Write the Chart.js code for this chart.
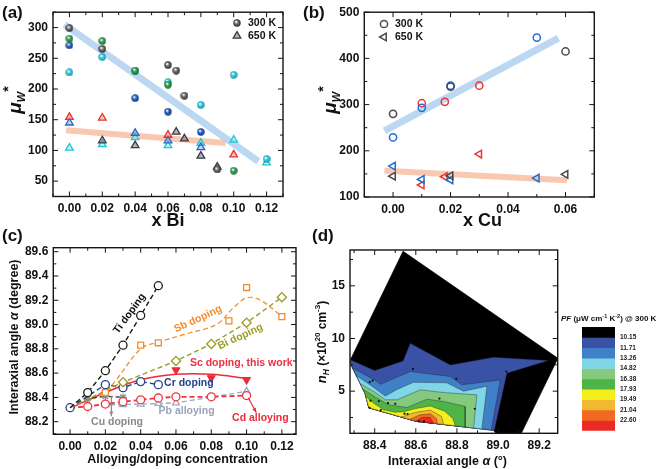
<!DOCTYPE html>
<html>
<head>
<meta charset="utf-8">
<title>Weighted mobility and interaxial angle</title>
<script src="https://cdn.jsdelivr.net/npm/chart.js@4.4.0/dist/chart.umd.min.js"></script>
<style>
  html, body { margin: 0; padding: 0; background: #fff; }
  #figure { position: relative; width: 661px; height: 469px; overflow: hidden; font-family: "Liberation Sans", Arial, sans-serif; color: #111; }
  #figure canvas { position: absolute; }
  .tag { position: absolute; font-size: 17px; font-weight: bold; line-height: 1; }
  #pfTitle { position: absolute; left: 561px; top: 315px; font-size: 8px; font-weight: bold; white-space: nowrap; line-height: 1; }
  #pfTitle sup { font-size: 5.5px; vertical-align: 3px; line-height: 0; }
</style>
</head>
<body>
<div id="figure">
  <canvas id="chartA" width="318" height="232" style="left:0;top:0"></canvas>
  <canvas id="chartB" width="343" height="232" style="left:318px;top:0"></canvas>
  <canvas id="chartC" width="318" height="237" style="left:0;top:232px"></canvas>
  <canvas id="chartD" width="270" height="237" style="left:300px;top:232px"></canvas>
  <canvas id="chartE" width="91" height="130" style="left:570px;top:310px"></canvas>
  <div class="tag" style="left:2px;top:4px">(a)</div>
  <div class="tag" style="left:303px;top:4px">(b)</div>
  <div class="tag" style="left:2px;top:227px">(c)</div>
  <div class="tag" style="left:312px;top:227px">(d)</div>
  <div id="pfTitle"><i>PF</i> (&mu;W cm<sup>-1</sup> K<sup>-2</sup>) @ 300 K</div>
</div>
<script>
// (a) weighted mobility vs x Bi
const biGrey300 = [[0, 299], [0.02, 265], [0.06, 239], [0.065, 230], [0.07, 189], [0.09, 69]];
const biGreen300 = [[0, 282], [0.02, 278], [0.04, 230], [0.06, 207], [0.10, 67]];
const biBlue300 = [[0, 271], [0.04, 185], [0.06, 163], [0.08, 130]];
const biCyan300 = [[0, 227], [0.02, 252], [0.04, 229], [0.06, 211], [0.08, 174], [0.10, 223], [0.12, 86]];
const biGrey650 = [[0.02, 116], [0.04, 108], [0.065, 130], [0.07, 119], [0.08, 91], [0.09, 73]];
const biRed650 = [[0, 154], [0.02, 153], [0.06, 125], [0.10, 93]];
const biBlue650 = [[0, 145], [0.04, 128], [0.06, 116], [0.08, 105]];
const biCyan650 = [[0, 104], [0.02, 110], [0.04, 121], [0.06, 108], [0.08, 112], [0.10, 117], [0.12, 80]];
const biFit300 = [[-0.003, 305], [0.115, 82]];
const biFit650 = [[-0.002, 133], [0.095, 112]];
const biTicksX = [0, 0.02, 0.04, 0.06, 0.08, 0.10, 0.12];
const biTicksY = [50, 100, 150, 200, 250, 300];

// (b) weighted mobility vs x Cu
const cuGrey300 = [[0, 280], [0.02, 339], [0.06, 415]];
const cuBlue300 = [[0, 229], [0.01, 293], [0.02, 341], [0.05, 445]];
const cuRed300 = [[0.01, 303], [0.018, 306], [0.03, 341]];
const cuGrey650 = [[0, 145], [0.02, 146], [0.06, 149]];
const cuBlue650 = [[0, 167], [0.01, 138], [0.02, 137], [0.05, 141]];
const cuRed650 = [[0.01, 126], [0.018, 144], [0.03, 193]];
const cuFit300 = [[-0.003, 243], [0.0575, 444]];
const cuFit650 = [[-0.003, 157], [0.0605, 136]];
const cuTicksX = [0, 0.02, 0.04, 0.06];
const cuTicksY = [100, 200, 300, 400, 500];

// (c) interaxial angle vs alloying/doping concentration
const tiDoping = [[0, 88.315], [0.01, 88.44], [0.02, 88.62], [0.03, 88.83], [0.04, 89.075], [0.05, 89.32]];
const sbDoping = [[0.02, 88.44], [0.04, 88.83], [0.05, 88.85], [0.09, 89.03], [0.10, 89.305], [0.12, 89.065]];
const sbFit = [[0, 88.315], [0.02, 88.45], [0.04, 88.80], [0.05, 88.855], [0.065, 88.92], [0.083, 89.0], [0.092, 89.13], [0.10, 89.22], [0.108, 89.2], [0.12, 89.065]];
const biDoping = [[0, 88.315], [0.03, 88.525], [0.06, 88.70], [0.08, 88.84], [0.10, 89.015], [0.12, 89.225]];
const crDoping = [[0, 88.315], [0.02, 88.505], [0.03, 88.48], [0.04, 88.53], [0.05, 88.505]];
const cdAlloying = [[0, 88.315], [0.01, 88.325], [0.02, 88.345], [0.03, 88.365], [0.04, 88.38], [0.05, 88.395], [0.06, 88.405], [0.08, 88.405], [0.10, 88.415]];
const pbAlloying = [[0, 88.315], [0.02, 88.34], [0.03, 88.34], [0.04, 88.345], [0.05, 88.35], [0.06, 88.355], [0.10, 88.45]];
const cuDoping = [[0, 88.315], [0.01, 88.39], [0.02, 88.41], [0.03, 88.40]];
const scDoping = [[0.06, 88.625], [0.08, 88.56], [0.10, 88.545]];
const scFit = [[0, 88.31], [0.02, 88.44], [0.04, 88.545], [0.06, 88.59], [0.08, 88.59], [0.10, 88.555]];
const dopTicksX = [0, 0.02, 0.04, 0.06, 0.08, 0.10, 0.12];
const dopTicksY = [88.2, 88.4, 88.6, 88.8, 89.0, 89.2, 89.4, 89.6];

// (d) PF contour over interaxial angle and carrier density, outer region first
const pfHull = [[88.282, 7.97], [88.538, 18.28], [89.291, 8.12], [89.113, 1.0], [88.989, 1.0], [88.978, 1.28], [88.60, 2.15], [88.372, 3.42], [88.353, 4.81], [88.285, 7.49], [88.282, 7.97]];
const pfBand1 = [[88.282, 7.97], [88.40, 6.96], [88.538, 7.87], [88.573, 9.54], [88.768, 7.49], [88.978, 8.22], [89.245, 7.9], [89.043, 6.70], [88.982, 1.27], [88.60, 2.15], [88.372, 3.42], [88.353, 4.81], [88.285, 7.49], [88.282, 7.97]];
const pfBand2 = [[88.293, 7.18], [88.40, 6.07], [88.428, 5.65], [88.573, 6.86], [88.768, 6.39], [88.824, 5.60], [89.011, 6.07], [88.967, 1.31], [88.60, 2.15], [88.372, 3.42], [88.353, 4.81], [88.293, 7.18]];
const pfBand3 = [[88.311, 6.47], [88.387, 5.47], [88.452, 4.53], [88.509, 5.16], [88.589, 5.85], [88.751, 5.79], [88.832, 5.0], [88.946, 5.47], [88.921, 1.41], [88.60, 2.15], [88.372, 3.42], [88.353, 4.81], [88.311, 6.47]];
const pfBand4 = [[88.33, 5.7], [88.395, 4.97], [88.452, 4.18], [88.509, 4.18], [88.622, 5.13], [88.735, 4.87], [88.897, 4.65], [88.881, 1.50], [88.60, 2.15], [88.372, 3.42], [88.353, 4.81], [88.33, 5.7]];
const pfBand5 = [[88.342, 5.2], [88.411, 4.34], [88.468, 3.71], [88.557, 3.45], [88.654, 4.24], [88.735, 4.02], [88.84, 3.55], [88.84, 1.60], [88.60, 2.15], [88.372, 3.42], [88.353, 4.81], [88.342, 5.2]];
const pfBand6 = [[88.356, 4.5], [88.395, 3.86], [88.444, 3.23], [88.50, 3.0], [88.54, 3.05], [88.60, 3.35], [88.67, 3.6], [88.74, 3.1], [88.78, 2.4], [88.792, 1.71], [88.60, 2.15], [88.372, 3.42], [88.356, 4.5]];
const pfBand7 = [[88.53, 2.54], [88.60, 3.0], [88.67, 3.2], [88.725, 2.6], [88.735, 1.84], [88.60, 2.15], [88.53, 2.54]];
const pfBand8 = [[88.57, 2.32], [88.62, 2.75], [88.67, 2.85], [88.70, 2.4], [88.705, 1.91], [88.60, 2.15], [88.57, 2.32]];
const pfBand9 = [[88.60, 2.15], [88.63, 2.5], [88.67, 2.5], [88.685, 1.95], [88.60, 2.15]];
const pfSamples = [[88.39, 6.0], [88.376, 5.85], [88.586, 7.11], [88.797, 6.17], [89.04, 6.86], [88.38, 4.1], [88.42, 4.05], [88.465, 3.86], [88.50, 3.8], [88.43, 3.2], [88.545, 2.86], [88.56, 2.83], [88.615, 2.13], [88.64, 2.13], [88.715, 4.3], [88.887, 3.33], [88.375, 3.42]];
const pfTicksX = [88.4, 88.6, 88.8, 89.0, 89.2];
const pfTicksY = [5, 10, 15];
const pfTickLabels = ['10.15', '11.71', '13.26', '14.82', '16.38', '17.93', '19.49', '21.04', '22.60'];

const FONT = '"Liberation Sans", Arial, Helvetica, sans-serif';
const pfColors = ['#000000', '#3a52a6', '#4080c6', '#80d6e6', '#84c97e', '#4fb447', '#f4ee1c', '#f2b832', '#f06a22', '#ec2a24'];

Chart.defaults.font.family = FONT;

const pts = arr => arr.map(p => ({ x: p[0], y: p[1] }));

function minorOf(majors, min, max) {
    const step = majors[1] - majors[0];
    const out = [];
    for (let v = majors[0] - step / 2; v <= max + 1e-9; v += step) {
        if (v >= min - 1e-9) out.push(v);
    }
    return out;
}

// shaded ball used for the 300 K markers in (a)
function sphere(color, edge, size) {
    const c = document.createElement('canvas');
    c.width = c.height = size;
    const g = c.getContext('2d');
    const r = size / 2;
    const grad = g.createRadialGradient(r * 0.75, r * 0.7, r * 0.1, r, r, r);
    grad.addColorStop(0, '#ffffff');
    grad.addColorStop(0.35, color);
    grad.addColorStop(1, edge);
    g.fillStyle = grad;
    g.beginPath();
    g.arc(r, r, r - 0.3, 0, Math.PI * 2);
    g.fill();
    return c;
}

function drawRich(ctx, parts, x, y, rot) {
    ctx.save();
    ctx.translate(x, y);
    ctx.rotate(rot * Math.PI / 180);
    ctx.fillStyle = '#111';
    ctx.textBaseline = 'alphabetic';
    let w = 0;
    parts.forEach(p => { ctx.font = p[2] + ' ' + p[1] + 'px ' + FONT; w += ctx.measureText(p[0]).width; });
    let cx = -w / 2;
    const base = parts[0][1] * 0.36;
    parts.forEach(p => {
        ctx.font = p[2] + ' ' + p[1] + 'px ' + FONT;
        ctx.fillText(p[0], cx, base + (p[3] || 0));
        cx += ctx.measureText(p[0]).width;
    });
    ctx.restore();
}

function drawMarker(ctx, m, x, y) {
    if (m.image) {
        ctx.drawImage(m.image, x - m.image.width / 2, y - m.image.height / 2);
        return;
    }
    ctx.save();
    ctx.fillStyle = m.fill || 'rgba(0,0,0,0)';
    ctx.strokeStyle = m.stroke;
    ctx.lineWidth = m.lw;
    Chart.helpers.drawPoint(ctx, { pointStyle: m.style, radius: m.r, rotation: m.rot || 0, borderWidth: m.lw }, x, y);
    ctx.restore();
}

function drawFrame(chart) {
    const { ctx, chartArea: a } = chart;
    const xs = chart.scales.x, ys = chart.scales.y;
    const xMaj = xs.ticks.map(t => t.value), yMaj = ys.ticks.map(t => t.value);
    ctx.save();
    ctx.strokeStyle = '#151515';
    ctx.lineWidth = 1;
    ctx.beginPath();
    const mark = (vals, len, horizontal) => vals.forEach(v => {
        if (horizontal) {
            const p = xs.getPixelForValue(v);
            ctx.moveTo(p, a.bottom); ctx.lineTo(p, a.bottom - len);
            ctx.moveTo(p, a.top); ctx.lineTo(p, a.top + len);
        } else {
            const p = ys.getPixelForValue(v);
            ctx.moveTo(a.left, p); ctx.lineTo(a.left + len, p);
            ctx.moveTo(a.right, p); ctx.lineTo(a.right - len, p);
        }
    });
    mark(xMaj, 5, true);
    mark(minorOf(xMaj, xs.min, xs.max), 3, true);
    mark(yMaj, 5, false);
    mark(minorOf(yMaj, ys.min, ys.max), 3, false);
    ctx.stroke();
    ctx.lineWidth = 1.4;
    ctx.strokeRect(a.left, a.top, a.right - a.left, a.bottom - a.top);
    ctx.restore();
}

// frame, inner ticks, axis titles, labels, arrows and legends
const decor = {
    id: 'decor',
    afterDatasetsDraw(chart) {
        drawFrame(chart);
    },
    afterDraw(chart, args, opts) {
        const ctx = chart.ctx;
        const xs = chart.scales.x, ys = chart.scales.y;
        (opts.arrows || []).forEach(ar => {
            const x1 = xs.getPixelForValue(ar.from[0]), y1 = ys.getPixelForValue(ar.from[1]);
            const x2 = xs.getPixelForValue(ar.to[0]), y2 = ys.getPixelForValue(ar.to[1]);
            const ang = Math.atan2(y2 - y1, x2 - x1);
            ctx.save();
            ctx.strokeStyle = ar.color;
            ctx.fillStyle = ar.color;
            ctx.lineWidth = 1.2;
            ctx.beginPath(); ctx.moveTo(x1, y1); ctx.lineTo(x2, y2); ctx.stroke();
            ctx.beginPath();
            ctx.moveTo(x2, y2);
            ctx.lineTo(x2 - 5 * Math.cos(ang - 0.4), y2 - 5 * Math.sin(ang - 0.4));
            ctx.lineTo(x2 - 5 * Math.cos(ang + 0.4), y2 - 5 * Math.sin(ang + 0.4));
            ctx.closePath(); ctx.fill();
            ctx.restore();
        });
        (opts.texts || []).forEach(t => {
            ctx.save();
            ctx.translate(xs.getPixelForValue(t.x), ys.getPixelForValue(t.y));
            ctx.rotate((t.rot || 0) * Math.PI / 180);
            ctx.font = 'bold ' + (t.size || 10.5) + 'px ' + FONT;
            ctx.fillStyle = t.color;
            ctx.textAlign = 'center';
            ctx.textBaseline = 'middle';
            ctx.fillText(t.text, 0, 0);
            ctx.restore();
        });
        (opts.titles || []).forEach(t => drawRich(ctx, t.parts, t.x, t.y, t.rot || 0));
        (opts.legend || []).forEach(item => {
            drawMarker(ctx, item.marker, item.x, item.y);
            ctx.save();
            ctx.font = 'bold 10.5px ' + FONT;
            ctx.fillStyle = '#111';
            ctx.textBaseline = 'middle';
            ctx.fillText(item.label, item.x + 11, item.y + 0.5);
            ctx.restore();
        });
    }
};
Chart.register(decor);

function axis(a, horizontal) {
    return {
        type: 'linear',
        min: a.min,
        max: a.max,
        grid: { display: false, drawTicks: false },
        border: { display: false },
        afterBuildTicks: s => { s.ticks = a.ticks.map(v => ({ value: v })); },
        afterFit: s => { if (horizontal) s.height = a.size; else s.width = a.size; },
        ticks: {
            autoSkip: false,
            maxRotation: 0,
            padding: a.pad || 5,
            color: '#111',
            font: { family: FONT, size: 12, weight: 'bold' },
            callback: v => Number(v).toFixed(a.digits)
        }
    };
}

function scatterChart(id, datasets, o) {
    return new Chart(document.getElementById(id), {
        type: 'scatter',
        data: { datasets: datasets },
        options: {
            responsive: false,
            animation: false,
            devicePixelRatio: 1,
            events: [],
            layout: { padding: o.padding },
            plugins: { legend: { display: false }, tooltip: { enabled: false }, decor: o.decor },
            scales: { x: axis(o.x, true), y: axis(o.y, false) }
        }
    });
}

function band(data, color, width) {
    return { data: pts(data), showLine: true, borderColor: color, borderWidth: width, pointRadius: 0, order: 10 };
}

const muTitle = [['\u03bc', 19, 'italic bold', 0], ['W', 11, 'italic bold', 4], ['*', 14, 'bold', -8]];

// ---------- (a)
const ball = {
    grey: sphere('#767676', '#202020', 8),
    green: sphere('#38a85a', '#17602f', 8),
    blue: sphere('#2b6ccb', '#0f3478', 8),
    cyan: sphere('#34d2e2', '#178c9c', 8)
};
const ballSet = (data, img) => ({ data: pts(data), pointStyle: img, pointRadius: 4 });
const triSet = (data, color, fill) => ({
    data: pts(data), pointStyle: 'triangle', pointRadius: 4.4, pointBorderWidth: 1.3,
    pointBorderColor: color, pointBackgroundColor: fill
});

scatterChart('chartA', [
    ballSet(biGrey300, ball.grey),
    ballSet(biGreen300, ball.green),
    ballSet(biBlue300, ball.blue),
    ballSet(biCyan300, ball.cyan),
    triSet(biGrey650, '#3c3c48', 'rgba(120,120,130,0.55)'),
    triSet(biRed650, '#ec3030', 'rgba(240,90,90,0.35)'),
    triSet(biBlue650, '#2a66c6', 'rgba(80,130,210,0.35)'),
    triSet(biCyan650, '#22c6d4', 'rgba(90,220,230,0.35)'),
    band(biFit300, 'rgba(176,208,240,0.85)', 7),
    band(biFit650, 'rgba(246,186,156,0.8)', 6)
], {
    padding: { left: 0, top: 11, right: 35, bottom: 0 },
    x: { min: -0.01, max: 0.13, ticks: biTicksX, digits: 2, size: 35.5 },
    y: { min: 25, max: 325, ticks: biTicksY, digits: 0, size: 53 },
    decor: {
        titles: [
            { parts: [['x Bi', 18, 'bold', 0]], x: 168, y: 220 },
            { parts: muTitle, x: 14, y: 100, rot: -90 }
        ],
        legend: [
            { x: 237, y: 23, label: '300 K', marker: { image: ball.grey } },
            { x: 237, y: 36, label: '650 K', marker: { style: 'triangle', r: 4.4, lw: 1.3, stroke: '#3c3c48', fill: 'rgba(120,120,130,0.55)' } }
        ]
    }
});

// ---------- (b)
const ringSet = (data, color) => ({
    data: pts(data), pointStyle: 'circle', pointRadius: 3.6, pointBorderWidth: 1.5,
    pointBorderColor: color, pointBackgroundColor: 'rgba(255,255,255,0)'
});
const leftTriSet = (data, color) => ({
    data: pts(data), pointStyle: 'triangle', pointRotation: -90, pointRadius: 4.4, pointBorderWidth: 1.5,
    pointBorderColor: color, pointBackgroundColor: 'rgba(255,255,255,0)'
});

scatterChart('chartB', [
    ringSet(cuGrey300, '#4a4a4a'),
    ringSet(cuBlue300, '#1e6ed2'),
    ringSet(cuRed300, '#ee3434'),
    leftTriSet(cuGrey650, '#4a4a4a'),
    leftTriSet(cuBlue650, '#1e6ed2'),
    leftTriSet(cuRed650, '#ee3434'),
    band(cuFit300, 'rgba(176,208,240,0.85)', 7),
    band(cuFit650, 'rgba(246,186,156,0.8)', 6)
], {
    padding: { left: 0, top: 10.5, right: 66.7, bottom: 0 },
    x: { min: -0.01, max: 0.07, ticks: cuTicksX, digits: 2, size: 35 },
    y: { min: 100, max: 500, ticks: cuTicksY, digits: 0, size: 46.3 },
    decor: {
        titles: [
            { parts: [['x Cu', 18, 'bold', 0]], x: 164.5, y: 220 },
            { parts: muTitle, x: 11, y: 100, rot: -90 }
        ],
        legend: [
            { x: 66, y: 24, label: '300 K', marker: { style: 'circle', r: 3.6, lw: 1.5, stroke: '#4a4a4a' } },
            { x: 66, y: 37, label: '650 K', marker: { style: 'triangle', rot: -90, r: 4.4, lw: 1.5, stroke: '#4a4a4a' } }
        ]
    }
});

// ---------- (c)
const hideFirst = r => c => (c.dataIndex === 0 ? 0 : r);
function dopSeries(data, color, style, extra) {
    return Object.assign({
        data: pts(data), showLine: true, borderColor: color, borderWidth: 1.4, borderDash: [5, 3],
        pointStyle: style, pointRadius: hideFirst(4), pointBorderColor: color,
        pointBackgroundColor: '#ffffff', pointBorderWidth: 1.3
    }, extra || {});
}

scatterChart('chartC', [
    { data: pts(scDoping), pointStyle: 'triangle', pointRotation: 180, pointRadius: 4.6, pointBorderColor: '#ee2a3a', pointBackgroundColor: '#ee2a3a' },
    dopSeries(tiDoping, '#1a1a1a', 'circle'),
    { data: pts(sbDoping), pointStyle: 'rect', pointRadius: 4.2, pointBorderColor: '#f28c30', pointBackgroundColor: '#ffffff', pointBorderWidth: 1.3 },
    dopSeries(biDoping, '#9c9c26', 'rectRot', { pointRadius: hideFirst(4.6) }),
    dopSeries(crDoping, '#27428f', 'circle', { pointRadius: 4 }),
    dopSeries(cdAlloying, '#ee3440', 'circle', { borderWidth: 1.8 }),
    dopSeries(pbAlloying, '#a2a8c2', 'triangle'),
    dopSeries(cuDoping, '#8a8a8a', 'star', { borderColor: '#3a3a3a' }),
    { data: pts(sbFit), showLine: true, borderColor: '#f5953a', borderWidth: 1.4, borderDash: [5, 3], pointRadius: 0, tension: 0.35 },
    { data: pts(scFit), showLine: true, borderColor: '#ee2a3a', borderWidth: 1.5, pointRadius: 0, tension: 0.4 }
], {
    padding: { left: 0, top: 15.7, right: 22, bottom: 0 },
    x: { min: -0.0095, max: 0.128, ticks: dopTicksX, digits: 2, size: 34.7 },
    y: { min: 88.096, max: 89.633, ticks: dopTicksY, digits: 1, size: 53.3 },
    decor: {
        titles: [
            { parts: [['Alloying/doping concentration', 12.5, 'bold', 0]], x: 177.5, y: 226.5 },
            { parts: [['Interaxial angle ', 12.5, 'bold', 0], ['\u03b1', 12.5, 'italic bold', 0], [' (degree)', 12.5, 'bold', 0]], x: 13, y: 105, rot: -90 }
        ],
        texts: [
            { text: 'Ti doping', x: 0.0337, y: 89.09, rot: -54, color: '#111111' },
            { text: 'Sb doping', x: 0.0725, y: 89.045, rot: -25, color: '#f28a2e' },
            { text: 'Bi doping', x: 0.0965, y: 88.9, rot: -25, color: '#9c9c26' },
            { text: 'Sc doping, this work', x: 0.097, y: 88.68, color: '#ee2f45' },
            { text: 'Cr doping', x: 0.0673, y: 88.515, color: '#25408f' },
            { text: 'Pb alloying', x: 0.066, y: 88.29, color: '#9aa1bd' },
            { text: 'Cd alloying', x: 0.1078, y: 88.228, color: '#ee2a3a' },
            { text: 'Cu doping', x: 0.0266, y: 88.2, color: '#8a8a8a' }
        ],
        arrows: [
            { from: [0.0234, 88.41], to: [0.0234, 88.245], color: '#8a8a8a' },
            { from: [0.101, 88.395], to: [0.1055, 88.275], color: '#ee2a3a' }
        ]
    }
});

// ---------- (d)
const pfRegions = [pfHull, pfBand1, pfBand2, pfBand3, pfBand4, pfBand5, pfBand6, pfBand7, pfBand8, pfBand9];
const contourSets = pfRegions.map((poly, i) => ({
    data: pts(poly), showLine: true, fill: 'shape', backgroundColor: pfColors[i],
    borderColor: i === 0 ? '#000000' : 'rgba(30,30,40,0.55)', borderWidth: 0.7,
    pointRadius: 0, order: pfRegions.length - i + 1
}));
contourSets.push({ data: pts(pfSamples), pointRadius: 1.1, pointBackgroundColor: '#111', pointBorderWidth: 0, order: 0 });

scatterChart('chartD', contourSets, {
    padding: { left: 0, top: 18, right: 12.3, bottom: 0 },
    x: { min: 88.28, max: 89.29, ticks: pfTicksX, digits: 1, size: 35.7 },
    y: { min: 1, max: 18.4, ticks: pfTicksY, digits: 0, size: 50 },
    decor: {
        titles: [
            { parts: [['Interaxial angle ', 12.5, 'bold', 0], ['\u03b1', 12.5, 'italic bold', 0], [' (\u00b0)', 12.5, 'bold', 0]], x: 147.5, y: 228 },
            { parts: [['n', 13, 'italic bold', 0], ['H', 8.5, 'italic bold', 3], [' (\u00d710', 12, 'bold', 0], ['20', 8, 'bold', -6], [' cm', 12, 'bold', 0], ['-3', 8, 'bold', -6], [')', 12, 'bold', 0]], x: 21, y: 110, rot: -90 }
        ]
    }
});

// ---------- colour bar of (d)
new Chart(document.getElementById('chartE'), {
    type: 'bar',
    data: {
        labels: ['PF'],
        datasets: pfColors.map((c, i) => ({
            data: [[i, i + 1]], backgroundColor: c, borderWidth: 0,
            barPercentage: 1, categoryPercentage: 1, grouped: false
        }))
    },
    options: {
        responsive: false,
        animation: false,
        devicePixelRatio: 1,
        events: [],
        layout: { padding: { left: 12, top: 17, right: 0, bottom: 9.3 } },
        plugins: { legend: { display: false }, tooltip: { enabled: false }, decor: false },
        scales: {
            x: { display: false },
            y: {
                position: 'right',
                reverse: true,
                min: 0,
                max: pfColors.length,
                grid: { display: false, drawTicks: false },
                border: { display: false },
                afterBuildTicks: s => { s.ticks = pfTickLabels.map((_, i) => ({ value: i + 1 })); },
                afterFit: s => { s.width = 46; },
                ticks: {
                    padding: 5,
                    color: '#222',
                    font: { family: FONT, size: 6.5, weight: 'bold' },
                    callback: v => pfTickLabels[v - 1]
                }
            }
        }
    }
});
</script>
</body>
</html>
